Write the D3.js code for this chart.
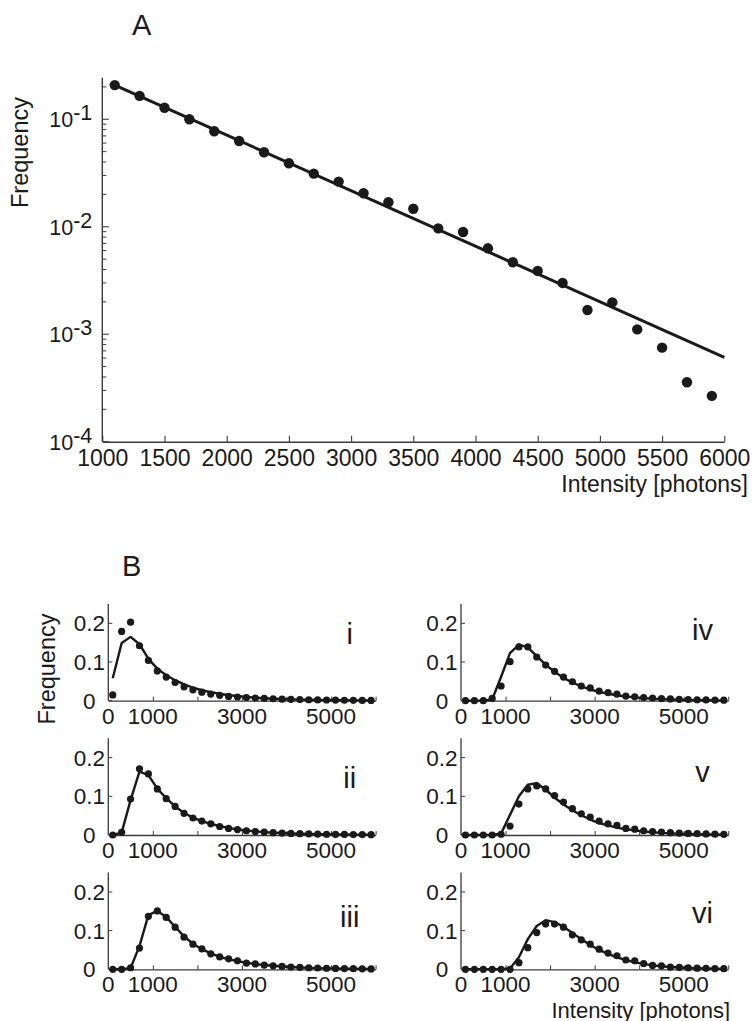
<!DOCTYPE html>
<html>
<head>
<meta charset="utf-8">
<script src="https://cdn.jsdelivr.net/npm/d3@7/dist/d3.min.js"></script>
<style>
  html, body { margin: 0; padding: 0; background: #fff; }
  svg { display: block; }
  text { font-family: "Liberation Sans", Arial, Helvetica, sans-serif; fill: #1a1a1a; }
</style>
</head>
<body>
<svg id="chart" width="756" height="1021"></svg>
<script>
// ---------- Panel A data ----------
const aIntensity = [1100,1300,1500,1700,1900,2100,2300,2500,2700,2900,3100,3300,3500,3700,3900,4100,4300,4500,4700,4900,5100,5300,5500,5700,5900];
const aFrequency = [0.208,0.165,0.128,0.100,0.0773,0.0628,0.0493,0.039,0.0312,0.0263,0.0205,0.0169,0.0147,0.00966,0.00893,0.0063,0.00467,0.00388,0.0030,0.00168,0.00198,0.00111,0.00075,0.000357,0.000267];
const aFitIntensity = [1100, 6000];
const aFitFrequency = [0.208, 0.00061];
const aXTicks = [1000,1500,2000,2500,3000,3500,4000,4500,5000,5500,6000];
const aYMajor = [1e-1, 1e-2, 1e-3, 1e-4];
const aYMajorExp = ["-1", "-2", "-3", "-4"];

// ---------- Panel B data ----------
const bIntensity = [100,300,500,700,900,1100,1300,1500,1700,1900,2100,2300,2500,2700,2900,3100,3300,3500,3700,3900,4100,4300,4500,4700,4900,5100,5300,5500,5700,5900];
const bNames = ["i","ii","iii","iv","v","vi"];
const bDots_i   = [0.015,0.179,0.203,0.142,0.104,0.077,0.061,0.047,0.036,0.028,0.022,0.017,0.014,0.011,0.0096,0.008,0.007,0.006,0.005,0.004,0.0035,0.003,0.0025,0.002,0.0018,0.0015,0.0012,0.001,0.0008,0.0006];
const bFit_i    = [0.058,0.149,0.165,0.146,0.108,0.083,0.066,0.053,0.042,0.034,0.027,0.022,0.018,0.014,0.012,0.0095,0.0078,0.0064,0.0052,0.0043,0.0035,0.0029,0.0024,0.002,0.0016,0.0013,0.0011,0.0009,0.0008,0.0006];
const bDots_ii  = [0.0,0.007,0.093,0.171,0.158,0.119,0.094,0.074,0.056,0.044,0.036,0.029,0.022,0.017,0.014,0.011,0.009,0.0075,0.006,0.005,0.004,0.0035,0.003,0.0025,0.002,0.0017,0.0014,0.0012,0.001,0.0008];
const bFit_ii   = [0.0,0.006,0.09,0.164,0.155,0.12,0.095,0.074,0.057,0.045,0.036,0.029,0.023,0.018,0.0145,0.0115,0.0093,0.0075,0.006,0.005,0.004,0.0033,0.0027,0.0022,0.0018,0.0015,0.0012,0.001,0.0008,0.0007];
const bDots_iii = [0,0,0.004,0.055,0.137,0.151,0.134,0.109,0.083,0.065,0.053,0.04,0.032,0.027,0.022,0.016,0.014,0.011,0.009,0.0075,0.006,0.005,0.004,0.0033,0.0027,0.0022,0.0018,0.0015,0.0012,0.001];
const bFit_iii  = [0,0,0.003,0.06,0.14,0.151,0.135,0.11,0.085,0.066,0.052,0.041,0.032,0.026,0.021,0.017,0.0135,0.011,0.009,0.0072,0.0058,0.0047,0.0038,0.003,0.0025,0.002,0.0016,0.0013,0.001,0.0008];
const bDots_iv  = [0,0,0,0.006,0.038,0.101,0.139,0.139,0.113,0.092,0.076,0.061,0.049,0.038,0.033,0.025,0.021,0.017,0.012,0.01,0.008,0.007,0.0055,0.0045,0.0035,0.003,0.0025,0.002,0.0016,0.0013];
const bFit_iv   = [0,0,0,0.003,0.062,0.123,0.145,0.138,0.115,0.093,0.075,0.059,0.047,0.037,0.029,0.023,0.018,0.014,0.011,0.0085,0.0066,0.0051,0.004,0.003,0.0024,0.0018,0.0014,0.0011,0.0008,0.0006];
const bDots_v   = [0,0,0,0,0.002,0.023,0.08,0.119,0.127,0.119,0.102,0.085,0.068,0.055,0.046,0.036,0.029,0.025,0.017,0.015,0.011,0.009,0.0075,0.006,0.005,0.004,0.0033,0.0027,0.0022,0.0018];
const bFit_v    = [0,0,0,0,0.004,0.052,0.1,0.13,0.134,0.117,0.097,0.079,0.064,0.051,0.04,0.031,0.025,0.019,0.015,0.012,0.009,0.007,0.0054,0.0042,0.0033,0.0025,0.002,0.0015,0.0012,0.0009];
const bDots_vi  = [0,0,0,0,0,0,0.017,0.056,0.095,0.117,0.117,0.109,0.089,0.076,0.065,0.052,0.042,0.035,0.024,0.022,0.015,0.010,0.009,0.006,0.005,0.004,0.003,0.0025,0.002,0.0015];
const bFit_vi   = [0,0,0,0,0,0.002,0.031,0.078,0.112,0.127,0.122,0.110,0.094,0.078,0.063,0.050,0.040,0.031,0.024,0.018,0.014,0.010,0.0078,0.006,0.0045,0.0034,0.0026,0.002,0.0015,0.0011];
const bXTicks = [1000,2000,3000,4000,5000,6000];
const bXLabels = [0,1000,3000,5000];
const bYTicks = [0,0.1,0.2];

// ---------- layout (positions, not data) ----------
const INK = "#1a1a1a", AXIS = "#3a3a3a";
const svg = d3.select("#chart");

// ===== Panel A =====
const ax = d3.scaleLinear().domain([1000, 6000]).range([102.3, 724.3]);
const ay = d3.scaleLog().domain([1e-4, 0.25]).range([441.7, 76.5]);
const gA = svg.append("g");

gA.append("text").attr("x", 132).attr("y", 35).attr("font-size", 29).text("A");

gA.append("line").attr("x1", ax.range()[0]).attr("x2", ax.range()[0])
  .attr("y1", ay.range()[0]).attr("y2", 77.7).attr("stroke", AXIS).attr("stroke-width", 1.4);
const axisAX = d3.axisBottom(ax).tickValues(aXTicks).tickSize(-6).tickSizeOuter(0).tickPadding(8).tickFormat(d3.format("d"));
const gAX = gA.append("g").attr("transform", `translate(0,${ay.range()[0]})`).call(axisAX);
gAX.select(".domain").attr("stroke", AXIS).attr("stroke-width", 1.4);
gAX.selectAll(".tick line").attr("stroke", AXIS).attr("stroke-width", 1.1);
gAX.selectAll(".tick text").attr("font-size", 23).attr("fill", INK)
  .attr("font-family", '"Liberation Sans", Arial, sans-serif');

const minorVals = [];
[1e-4, 1e-3, 1e-2, 1e-1].forEach(dec => { for (let k = 2; k <= 9; k++) { const v = dec * k; if (v <= 0.25) minorVals.push(v); } });
gA.selectAll("line.minor").data(minorVals).join("line").attr("class", "minor")
  .attr("x1", ax.range()[0]).attr("x2", ax.range()[0] + 4)
  .attr("y1", d => ay(d)).attr("y2", d => ay(d)).attr("stroke", AXIS).attr("stroke-width", 1);
gA.selectAll("line.major").data(aYMajor).join("line").attr("class", "major")
  .attr("x1", ax.range()[0]).attr("x2", ax.range()[0] + 6.5)
  .attr("y1", d => ay(d)).attr("y2", d => ay(d)).attr("stroke", AXIS).attr("stroke-width", 1.1);
const yl = gA.selectAll("text.ylab").data(aYMajor).join("text").attr("class", "ylab")
  .attr("x", ax.range()[0] - 10).attr("y", d => ay(d) + 8).attr("text-anchor", "end").attr("font-size", 21.5);
yl.append("tspan").text("10");
yl.append("tspan").attr("dy", -7).text((d, i) => aYMajorExp[i]);

gA.append("text").attr("transform", "translate(27.5,152.5) rotate(-90)")
  .attr("text-anchor", "middle").attr("font-size", 23.5).text("Frequency");
gA.append("text").attr("x", 748).attr("y", 491.5).attr("text-anchor", "end")
  .attr("font-size", 23).text("Intensity [photons]");

const lineA = d3.line().x(d => ax(d[0])).y(d => ay(d[1]));
gA.append("path").datum(aFitIntensity.map((x, i) => [x, aFitFrequency[i]]))
  .attr("d", lineA).attr("fill", "none").attr("stroke", INK).attr("stroke-width", 3);
gA.selectAll("circle").data(aIntensity.map((x, i) => [x, aFrequency[i]])).join("circle")
  .attr("cx", d => ax(d[0])).attr("cy", d => ay(d[1])).attr("r", 5.2).attr("fill", INK);

// ===== Panel B =====
svg.append("text").attr("x", 122).attr("y", 576).attr("font-size", 29).text("B");
svg.append("text").attr("transform", "translate(54.5,669) rotate(-90)")
  .attr("text-anchor", "middle").attr("font-size", 23.5).text("Frequency");
svg.append("text").attr("x", 730).attr("y", 1017.5).attr("text-anchor", "end")
  .attr("font-size", 22).text("Intensity [photons]");

const colLeft = [108.3, 461];
const colWidth = 267.3;
const rowBottom = [700.7, 835, 969.3];
const rowHeight = 96.7;
const labelAt = [0.1466, 0.1215, 0.109, 0.157, 0.138, 0.12];
const dotsAll = [bDots_i, bDots_ii, bDots_iii, bDots_iv, bDots_v, bDots_vi];
const fitsAll = [bFit_i, bFit_ii, bFit_iii, bFit_iv, bFit_v, bFit_vi];

bNames.forEach((name, p) => {
  const col = Math.floor(p / 3), row = p % 3;
  const x = d3.scaleLinear().domain([0, 6000]).range([colLeft[col], colLeft[col] + colWidth]);
  const y = d3.scaleLinear().domain([0, 0.25]).range([rowBottom[row], rowBottom[row] - rowHeight]);
  const g = svg.append("g");

  g.append("line").attr("x1", x(0)).attr("x2", x(0)).attr("y1", y(0)).attr("y2", y(0.25))
    .attr("stroke", AXIS).attr("stroke-width", 1.3);
  g.selectAll("line.yt").data(bYTicks).join("line").attr("class", "yt")
    .attr("x1", x(0)).attr("x2", x(0) + 4).attr("y1", d => y(d)).attr("y2", d => y(d))
    .attr("stroke", AXIS).attr("stroke-width", 1);
  g.selectAll("text.yl").data(bYTicks).join("text").attr("class", "yl")
    .attr("x", x(0) - 19).attr("y", d => y(d) + 8).attr("text-anchor", "middle")
    .attr("font-size", 22.5).text(d => d === 0 ? "0" : d3.format(".1f")(d));

  const xa = d3.axisBottom(x).tickValues(bXTicks).tickSize(-4).tickSizeOuter(0).tickFormat("");
  const gx = g.append("g").attr("transform", `translate(0,${y(0)})`).call(xa);
  gx.select(".domain").attr("stroke", AXIS).attr("stroke-width", 1.3);
  gx.selectAll(".tick line").attr("stroke", AXIS).attr("stroke-width", 1);
  g.selectAll("text.xl").data(bXLabels).join("text").attr("class", "xl")
    .attr("x", d => x(d)).attr("y", y(0) + 23).attr("text-anchor", "middle")
    .attr("font-size", 22.5).text(d => d3.format("d")(d));

  const line = d3.line().x((d, i) => x(bIntensity[i])).y(d => y(d));
  g.append("path").datum(fitsAll[p]).attr("d", line).attr("fill", "none")
    .attr("stroke", INK).attr("stroke-width", 2.4).attr("stroke-linejoin", "round");
  g.selectAll("circle").data(dotsAll[p]).join("circle")
    .attr("cx", (d, i) => x(bIntensity[i])).attr("cy", d => y(d)).attr("r", 3.6).attr("fill", INK);

  g.append("text").attr("x", x(5420)).attr("y", y(labelAt[p])).attr("text-anchor", "middle")
    .attr("font-size", 29).text(name);
});
</script>
</body>
</html>
